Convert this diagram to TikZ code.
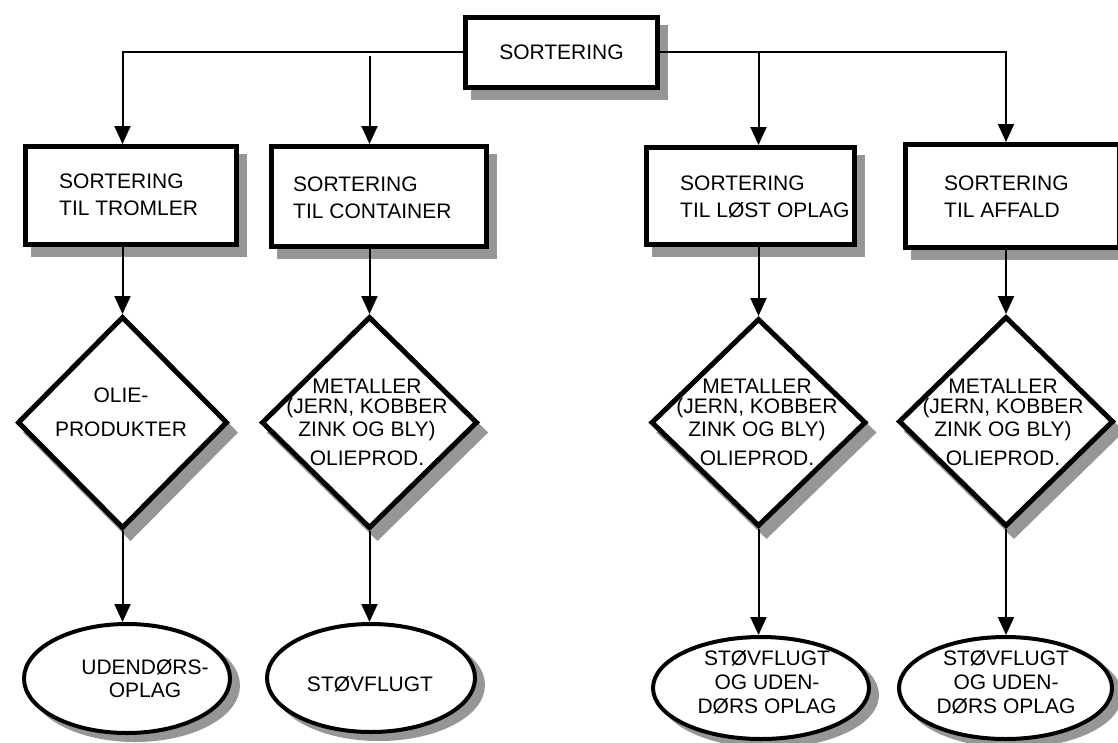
\documentclass[tikz,border=0pt]{standalone}
\usepackage{fontspec}
\setmainfont{Liberation Sans}
\usetikzlibrary{shapes.geometric, arrows.meta, shadows}
\definecolor{shadowgray}{RGB}{150,150,150}
\begin{document}
\begin{tikzpicture}[x=1pt, y=-1pt,
  box/.style={draw, rectangle, line width=5pt, fill=white, inner sep=0pt,
    font=\fontsize{21}{27}\selectfont,
    drop shadow={shadow xshift=8pt, shadow yshift=-10pt, fill=shadowgray, draw=shadowgray, opacity=1}},
  dia/.style={draw, diamond, line width=5pt, fill=white, inner sep=0pt,
    drop shadow={shadow xshift=8pt, shadow yshift=-10pt, fill=shadowgray, draw=shadowgray, opacity=1}},
  ell/.style={draw, ellipse, line width=4pt, fill=white, inner sep=0pt,
    drop shadow={shadow xshift=8pt, shadow yshift=-7pt, fill=shadowgray, draw=shadowgray, opacity=1}},
  txt/.style={inner sep=0pt, align=left, font=\fontsize{21}{27}\selectfont},
  dtxt/.style={inner sep=0pt, align=center, anchor=north, font=\fontsize{21}{20}\selectfont},
  etxt/.style={inner sep=0pt, align=center, anchor=north, font=\fontsize{21}{24}\selectfont},
  conn/.style={line width=2pt, -{Triangle[length=18pt, width=16pt]}}
]
\useasboundingbox (0,0) rectangle (1118,742);

% top box
\node[box, minimum width=192pt, minimum height=70pt] (top) at (561.5,52) {SORTERING};

% boxes
\node[box, minimum width=211pt, minimum height=98pt]  (b1) at (131,195.5) {};
\node[box, minimum width=215pt, minimum height=100pt] (b2) at (379,196.5) {};
\node[box, minimum width=208pt, minimum height=97pt]  (b3) at (750.5,196) {};
\node[box, minimum width=214pt, minimum height=103pt] (b4) at (1012.5,196) {};

\node[txt, anchor=north west] (t1) at (59,173.7)  {SORTERING\\TIL TROMLER};
\node[txt, anchor=north west] (t2) at (293,176.7) {SORTERING\\TIL CONTAINER};
\node[txt, anchor=north west] (t3) at (680,175.7) {SORTERING\\TIL LØST OPLAG};
\node[txt, anchor=north west] (t4) at (944,175.7) {SORTERING\\TIL AFFALD};

% diamonds
\node[dia, minimum width=210pt, minimum height=212pt] (d1) at (122.5,422.5) {};
\node[dia, minimum width=216pt, minimum height=212pt] (d2) at (369.5,422.5) {};
\node[dia, minimum width=215pt, minimum height=208pt] (d3) at (758.5,422.5) {};
\node[dia, minimum width=215pt, minimum height=210pt] (d4) at (1006,421.5) {};

\node[dtxt, font=\fontsize{21}{34}\selectfont] (dt1) at (121,387.7) {OLIE-\\PRODUKTER};
\node[dtxt] (dt2) at (367,379) {METALLER\\(JERN, KOBBER\\[3pt]ZINK OG BLY)\\[9pt]OLIEPROD.};
\node[dtxt] (dt3) at (757,379) {METALLER\\(JERN, KOBBER\\[3pt]ZINK OG BLY)\\[9pt]OLIEPROD.};
\node[dtxt] (dt4) at (1003,379) {METALLER\\(JERN, KOBBER\\[3pt]ZINK OG BLY)\\[9pt]OLIEPROD.};

% ellipses
\node[ell, minimum width=206pt, minimum height=109pt] (e1) at (127,678.5) {};
\node[ell, minimum width=208pt, minimum height=108pt] (e2) at (371,678) {};
\node[ell, minimum width=216pt, minimum height=102pt] (e3) at (761,688) {};
\node[ell, minimum width=213pt, minimum height=102pt] (e4) at (1005.5,688) {};

\node[etxt, font=\fontsize{21}{23}\selectfont] (et1) at (145,659.4) {UDENDØRS-\\OPLAG};
\node[inner sep=0pt, anchor=base, font=\fontsize{21}{24}\selectfont] (et2) at (370,691) {STØVFLUGT};
\node[etxt] (et3) at (767,650) {STØVFLUGT\\OG UDEN-\\DØRS OPLAG};
\node[etxt] (et4) at (1006,650) {STØVFLUGT\\OG UDEN-\\DØRS OPLAG};

% connectors
\coordinate (j2) at (369.5,55.5);
\draw[conn] (top.west) -| (b1.north -| d1.north);
\draw[conn] (j2) -- (b2.north -| d2.north);
\draw[conn] (top.east -| d3.north) -- (b3.north -| d3.north);
\draw[conn] (top.east) -| (b4.north -| d4.north);

\draw[conn] (b1.south -| d1.north) -- (d1.north);
\draw[conn] (b2.south -| d2.north) -- (d2.north);
\draw[conn] (b3.south -| d3.north) -- (d3.north);
\draw[conn] (b4.south -| d4.north) -- (d4.north);

\draw[conn] (d1.south) -- (e1.north -| d1.south);
\draw[conn] (d2.south) -- (e2.north -| d2.south);
\draw[conn] (d3.south) -- (e3.north -| d3.south);
\draw[conn] (d4.south) -- (e4.north -| d4.south);
\end{tikzpicture}
\end{document}
